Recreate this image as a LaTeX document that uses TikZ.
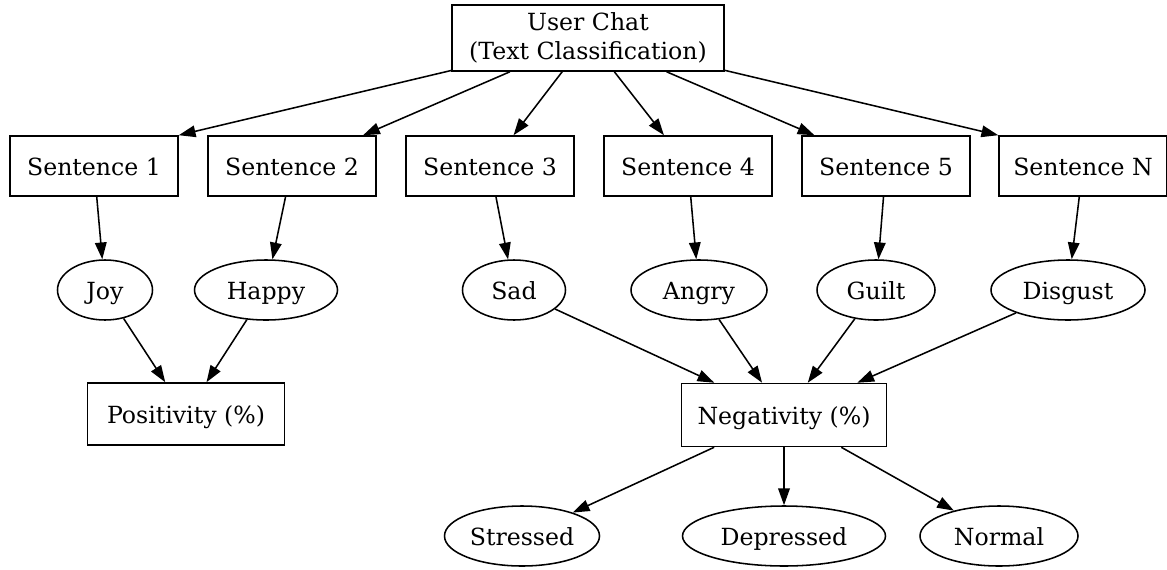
\documentclass[tikz,border=0pt]{standalone}
\usepackage{fontspec}
\setmainfont{DejaVu Serif}
\usetikzlibrary{arrows.meta,shapes.geometric}

\begin{document}
\begin{tikzpicture}[line width=1.1pt, >={Triangle[length=0.42cm,width=0.29cm]}]
			\tikzset{mybox/.style={draw, rectangle, minimum height=1.5cm, align=center, font=\fontsize{16.8}{20.6}\selectfont}}
			\tikzset{myline/.style={text height=16.5pt, text depth=3.7pt}}
			\tikzset{mysentence/.style={mybox, myline, minimum width=4.2cm}}
			\tikzset{myemotion/.style={draw, ellipse, minimum height=1.5cm, inner sep=0pt, myline, font=\fontsize{16.8}{20.6}\selectfont}}
			\useasboundingbox (0,0) rectangle (29.175,-14.225);

			\draw (14.7,-0.95) node [mybox, minimum width=6.8cm, minimum height=1.65cm] (CHAT) {User Chat\\(Text Classification)};

			\draw (2.35,-4.15) node [mysentence] (S1) {Sentence 1};
			\draw (7.3,-4.15) node [mysentence] (S2) {Sentence 2};
			\draw (12.25,-4.15) node [mysentence] (S3) {Sentence 3};
			\draw (17.2,-4.15) node [mysentence] (S4) {Sentence 4};
			\draw (22.15,-4.15) node [mysentence] (S5) {Sentence 5};
			\draw (27.075,-4.15) node [mysentence] (SN) {Sentence N};

			\draw (2.625,-7.25) node [myemotion, minimum width=2.375cm] (JOY) {Joy};
			\draw (6.65,-7.25) node [myemotion, minimum width=3.575cm] (HAPPY) {Happy};
			\draw (12.85,-7.25) node [myemotion, minimum width=2.575cm] (SAD) {Sad};
			\draw (17.475,-7.25) node [myemotion, minimum width=3.4cm] (ANGRY) {Angry};
			\draw (21.9,-7.25) node [myemotion, minimum width=2.95cm] (GUILT) {Guilt};
			\draw (26.7,-7.25) node [myemotion, minimum width=3.85cm] (DISGUST) {Disgust};

			\draw (4.65,-10.35) node [mybox, myline, minimum width=4.925cm, minimum height=1.55cm] (POS) {Positivity (\%)};
			\draw (19.6,-10.375) node [mybox, myline, minimum width=5.125cm, minimum height=1.575cm] (NEG) {Negativity (\%)};

			\draw (13.05,-13.4) node [myemotion, minimum width=3.875cm] (STRESSED) {Stressed};
			\draw (19.6,-13.4) node [myemotion, minimum width=5.075cm] (DEPRESSED) {Depressed};
			\draw (24.975,-13.4) node [myemotion, minimum width=3.95cm] (NORMAL) {Normal};

			\draw [->] (CHAT) -- (S1.north east);
			\draw [->] (CHAT) -- (S2);
			\draw [->] (CHAT) -- (S3);
			\draw [->] (CHAT) -- (S4);
			\draw [->] (CHAT) -- (S5);
			\draw [->] (CHAT) -- (SN.north west);

			\draw [->] (S1) -- (JOY);
			\draw [->] (S2) -- (HAPPY);
			\draw [->] (S3) -- (SAD);
			\draw [->] (S4) -- (ANGRY);
			\draw [->] (S5) -- (GUILT);
			\draw [->] (SN) -- (DISGUST);

			\draw [->] (JOY) -- (POS);
			\draw [->] (HAPPY) -- (POS);

			\draw [->] (SAD) -- (NEG);
			\draw [->] (ANGRY) -- (NEG);
			\draw [->] (GUILT) -- (NEG);
			\draw [->] (DISGUST) -- (NEG);

			\draw [->] (NEG) -- (STRESSED);
			\draw [->] (NEG) -- (DEPRESSED);
			\draw [->] (NEG) -- (NORMAL);
		\end{tikzpicture}
\end{document}
